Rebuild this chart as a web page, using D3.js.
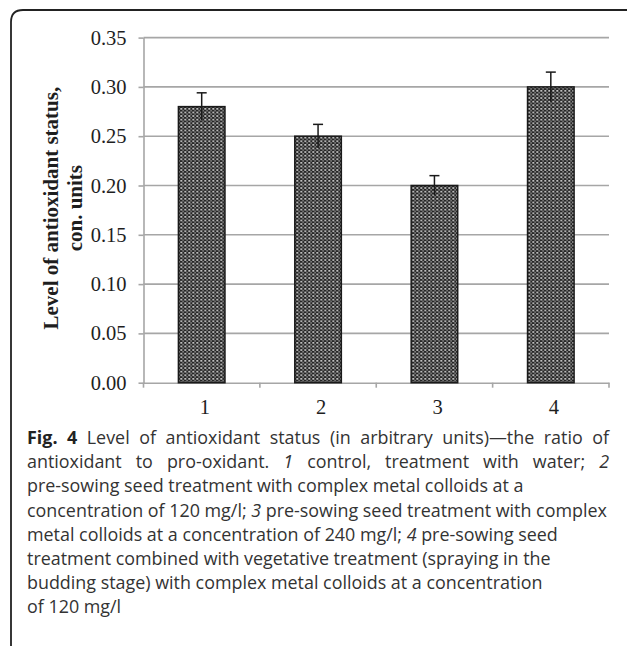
<!DOCTYPE html>
<html>
<head>
<meta charset="utf-8">
<script src="https://cdn.jsdelivr.net/npm/d3@7"></script>
<style>
  body { margin: 0; background: #fff; }
  svg { display: block; }
</style>
</head>
<body>
<div class="container"></div>
<script>
// chart data
var categories = ["1", "2", "3", "4"];
var values = [0.28, 0.25, 0.20, 0.30];
var errors = [0.014, 0.012, 0.010, 0.015];
var yTicks = [0, 0.05, 0.10, 0.15, 0.20, 0.25, 0.30, 0.35];
var yTitle = ["Level of antioxidant status,", "con. units"];

// caption, one entry per line: [text, style] pieces
var caption = [
  [["Fig. 4", "b"], [" Level of antioxidant status (in arbitrary units)\u2014the ratio of", ""]],
  [["antioxidant to pro-oxidant. ", ""], ["1", "i"], [" control, treatment with water; ", ""], ["2", "i"]],
  [["pre-sowing seed treatment with complex metal colloids at a", ""]],
  [["concentration of 120 mg/l; ", ""], ["3", "i"], [" pre-sowing seed treatment with complex", ""]],
  [["metal colloids at a concentration of 240 mg/l; ", ""], ["4", "i"], [" pre-sowing seed", ""]],
  [["treatment combined with vegetative treatment (spraying in the", ""]],
  [["budding stage) with complex metal colloids at a concentration", ""]],
  [["of 120 mg/l", ""]]
];
var justified = [true, true, false, false, false, false, false, false];

var width = 627;
var height = 647;
var margin = {top: 37.6, right: 18, bottom: 264.3, left: 143.5};

var svg = d3.select(".container").append("svg")
  .attr("width", width).attr("height", height);

// bar fill pattern
var defs = svg.append("defs");
var pat = defs.append("pattern").attr("id", "dots")
  .attr("patternUnits", "userSpaceOnUse")
  .attr("width", 4).attr("height", 3.6);
pat.append("rect").attr("width", 4).attr("height", 3.6).attr("fill", "#262626");
pat.append("rect").attr("x", 0.3).attr("y", 0.2).attr("width", 2).attr("height", 1.3).attr("fill", "#ececec");
pat.append("rect").attr("x", 2.3).attr("y", 2.0).attr("width", 1.6).attr("height", 1.2).attr("fill", "#a0a0a0");

// frame
svg.append("path")
  .attr("d", "M11,646 L11,22 Q11,10 23,10 L627,10")
  .attr("fill", "none").attr("stroke", "#222").attr("stroke-width", 1.8);

var xScale = d3.scaleBand().domain(categories)
  .range([margin.left, width - margin.right]).paddingInner(0.6).paddingOuter(0.3);
var xBand = d3.scaleBand().domain(categories).range([margin.left, width - margin.right]);
var yScale = d3.scaleLinear().domain([0, 0.35]).range([height - margin.bottom, margin.top]);

// gridlines
svg.append("g").selectAll("line").data(yTicks.slice(1)).enter().append("line")
  .attr("x1", margin.left).attr("x2", width - margin.right)
  .attr("y1", d => yScale(d)).attr("y2", d => yScale(d))
  .attr("stroke", "#a6a6a6").attr("stroke-width", 1.6);

// y axis
var yAxis = d3.axisLeft(yScale).tickValues(yTicks).tickFormat(d3.format(".2f"))
  .tickSizeInner(5).tickSizeOuter(0).tickPadding(12);
var gy = svg.append("g").attr("transform", "translate(" + margin.left + ",0)").call(yAxis);

// x axis, ticks on category boundaries
var xAxis = d3.axisBottom(xBand).tickSize(0).tickPadding(17);
var gx = svg.append("g").attr("transform", "translate(0," + yScale(0) + ")").call(xAxis);
gx.selectAll(".bnd").data(d3.range(categories.length + 1)).enter().append("line")
  .attr("class", "bnd")
  .attr("x1", i => margin.left + i * xBand.step()).attr("x2", i => margin.left + i * xBand.step())
  .attr("y1", 0).attr("y2", 5)
  .attr("stroke", "#a6a6a6").attr("stroke-width", 1.6);

[gy, gx].forEach(function(g) {
  g.select(".domain").attr("stroke", "#a6a6a6").attr("stroke-width", 1.6);
  g.selectAll(".tick line").attr("stroke", "#a6a6a6").attr("stroke-width", 1.6);
  g.selectAll(".tick text")
    .attr("font-family", "'Liberation Serif', 'Times New Roman', serif")
    .attr("font-size", 20.5).attr("fill", "#1e1e1e");
});
gx.selectAll(".tick text").attr("dx", "0.15em");

// bars
svg.append("g").selectAll("rect").data(values).enter().append("rect")
  .attr("x", (d, i) => xScale(categories[i]))
  .attr("y", d => yScale(d))
  .attr("width", xScale.bandwidth())
  .attr("height", d => yScale(0) - yScale(d))
  .attr("fill", "url(#dots)")
  .attr("stroke", "#1a1a1a").attr("stroke-width", 1.5);

// error bars
var eb = svg.append("g").selectAll("g").data(values).enter().append("g");
eb.append("line")
  .attr("x1", (d, i) => xScale(categories[i]) + xScale.bandwidth() / 2)
  .attr("x2", (d, i) => xScale(categories[i]) + xScale.bandwidth() / 2)
  .attr("y1", (d, i) => yScale(d - errors[i]))
  .attr("y2", (d, i) => yScale(d + errors[i]))
  .attr("stroke", "#1a1a1a").attr("stroke-width", 1.5);
eb.append("line")
  .attr("x1", (d, i) => xScale(categories[i]) + xScale.bandwidth() / 2 - 5)
  .attr("x2", (d, i) => xScale(categories[i]) + xScale.bandwidth() / 2 + 5)
  .attr("y1", (d, i) => yScale(d + errors[i]))
  .attr("y2", (d, i) => yScale(d + errors[i]))
  .attr("stroke", "#1a1a1a").attr("stroke-width", 1.5);

// y title
var yMid = (yScale(0) + yScale(0.35)) / 2 - 2;
svg.append("text")
  .attr("transform", "translate(58," + yMid + ") rotate(-90)")
  .attr("text-anchor", "middle")
  .attr("font-family", "'Liberation Serif', 'Times New Roman', serif")
  .attr("font-weight", "bold").attr("font-size", 21).attr("fill", "#1e1e1e")
  .selectAll("tspan").data(yTitle).enter().append("tspan")
  .attr("x", 0).attr("dy", (d, i) => i ? 23.5 : 0)
  .text(d => d);

// caption
var capLeft = 27, capRight = 609, capTop = 444, lineH = 24.2;
caption.forEach(function(line, li) {
  var t = svg.append("text")
    .attr("x", capLeft).attr("y", capTop + li * lineH)
    .attr("font-family", "'Open Sans', sans-serif")
    .attr("font-size", 17.9).attr("fill", "#333");
  line.forEach(function(p) {
    t.append("tspan").text(p[0])
      .attr("font-weight", p[1] == "b" ? "bold" : null)
      .attr("fill", p[1] == "b" ? "#222" : null)
      .attr("font-style", p[1] == "i" ? "italic" : null);
  });
  if (justified[li]) {
    var gaps = line.map(p => p[0]).join("").split(" ").length - 1;
    var extra = (capRight - capLeft) - t.node().getComputedTextLength();
    t.attr("word-spacing", extra / gaps);
  }
});
</script>
</body>
</html>
